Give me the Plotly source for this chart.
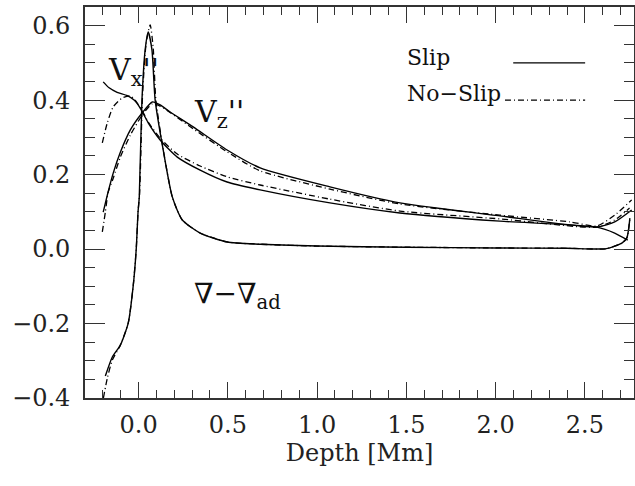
import plotly.graph_objects as go

# ---- data ----
grad_slip_x = [-0.186, -0.147, -0.102, -0.058, -0.030, -0.013, -0.003, 0.004, 0.019, 0.037, 0.054,
               0.075, 0.093, 0.138, 0.189, 0.245, 0.345, 0.496, 0.681, 1.0, 1.5, 2.0, 2.4, 2.62,
               2.707, 2.735, 2.752]
grad_slip_y = [-0.341, -0.290, -0.258, -0.199, -0.099, 0.0, 0.099, 0.140, 0.400, 0.535, 0.583,
               0.535, 0.400, 0.266, 0.140, 0.078, 0.043, 0.019, 0.013, 0.008, 0.005, 0.003, 0.002, 0.001,
               0.016, 0.030, 0.083]

grad_noslip_x = [-0.197, -0.175, -0.147, -0.102, -0.058, -0.030, -0.013, -0.003, 0.006, 0.022, 0.042,
                 0.065, 0.082, 0.097, 0.140, 0.190, 0.245, 0.345, 0.496, 0.681, 1.0, 1.5, 2.0, 2.4,
                 2.62, 2.707, 2.735, 2.752]
grad_noslip_y = [-0.400, -0.347, -0.298, -0.258, -0.199, -0.099, 0.0, 0.099, 0.150, 0.410, 0.550,
                 0.602, 0.540, 0.400, 0.262, 0.138, 0.078, 0.043, 0.019, 0.013, 0.008, 0.005, 0.003, 0.002,
                 0.001, 0.016, 0.030, 0.083]

vz_slip_x = [-0.198, -0.175, -0.142, -0.102, -0.046, 0.021, 0.077, 0.121, 0.177, 0.306, 0.496,
             0.681, 1.072, 1.464, 2.024, 2.567, 2.667, 2.762]
vz_slip_y = [0.099, 0.145, 0.204, 0.260, 0.320, 0.366, 0.395, 0.387, 0.368, 0.328, 0.266,
             0.218, 0.167, 0.124, 0.089, 0.059, 0.073, 0.105]

vz_noslip_x = [-0.203, -0.186, -0.170, -0.142, -0.102, -0.046, 0.021, 0.077, 0.121, 0.306, 0.496,
               0.681, 1.072, 1.464, 2.024, 2.415, 2.567, 2.667, 2.762]
vz_noslip_y = [0.046, 0.099, 0.153, 0.190, 0.247, 0.306, 0.360, 0.390, 0.384, 0.323, 0.261,
               0.210, 0.161, 0.121, 0.091, 0.073, 0.062, 0.091, 0.132]

vx_slip_x = [-0.198, -0.165, -0.120, -0.063, -0.025, 0.010, 0.054, 0.121, 0.217, 0.345, 0.496, 0.681,
             1.072, 1.464, 2.024, 2.567, 2.667, 2.740]
vx_slip_y = [0.449, 0.433, 0.421, 0.412, 0.400, 0.378, 0.339, 0.293, 0.247, 0.212, 0.180, 0.159,
             0.124, 0.097, 0.075, 0.059, 0.043, 0.024]

vx_noslip_x = [-0.203, -0.175, -0.142, -0.091, -0.046, -0.019, 0.021, 0.054, 0.121, 0.217, 0.345,
               0.496, 0.681, 1.072, 1.464, 2.024, 2.567, 2.667, 2.750]
vx_noslip_y = [0.285, 0.339, 0.382, 0.406, 0.411, 0.400, 0.371, 0.341, 0.298, 0.255, 0.223,
               0.194, 0.172, 0.134, 0.102, 0.081, 0.059, 0.078, 0.110]

x_tick_vals = [0.0, 0.5, 1.0, 1.5, 2.0, 2.5]
x_tick_text = ["0.0", "0.5", "1.0", "1.5", "2.0", "2.5"]
y_tick_vals = [-0.4, -0.2, 0.0, 0.2, 0.4, 0.6]
y_tick_text = ["\u22120.4", "\u22120.2", "0.0", "0.2", "0.4", "0.6"]

FONT = "DejaVu Serif"
INK = "#111111"
AX = "#333333"

solid = dict(color="black", width=1.4)
dashdot = dict(color="black", width=1.3, dash="6px,3px,1px,3px")

fig = go.Figure()
for xs, ys, ln in [
    (grad_slip_x, grad_slip_y, solid),
    (grad_noslip_x, grad_noslip_y, dashdot),
    (vz_slip_x, vz_slip_y, solid),
    (vz_noslip_x, vz_noslip_y, dashdot),
    (vx_slip_x, vx_slip_y, solid),
    (vx_noslip_x, vx_noslip_y, dashdot),
]:
    fig.add_trace(go.Scatter(x=xs, y=ys, mode="lines", line=dict(shape="spline", smoothing=0.6, **ln),
                             showlegend=False, hoverinfo="skip"))

# curve labels
fig.add_annotation(x=-0.18, y=0.476, xref="x", yref="y", text="V<sub>x</sub>''", showarrow=False,
                   xanchor="left", yanchor="middle", font=dict(family=FONT, size=30, color=INK))
fig.add_annotation(x=0.30, y=0.365, xref="x", yref="y", text="V<sub>z</sub>''", showarrow=False,
                   xanchor="left", yanchor="middle", font=dict(family=FONT, size=30, color=INK))
fig.add_annotation(x=0.30, y=-0.125, xref="x", yref="y", text="\u2207\u2212\u2207<sub>ad</sub>",
                   showarrow=False, xanchor="left", yanchor="middle",
                   font=dict(family=FONT, size=28, color=INK))

# legend drawn as text + sample lines
fig.add_annotation(x=0.583, y=0.872, xref="paper", yref="paper", text="Slip", showarrow=False,
                   xanchor="left", yanchor="middle", font=dict(family=FONT, size=22, color=INK))
fig.add_annotation(x=0.583, y=0.78, xref="paper", yref="paper", text="No\u2212Slip", showarrow=False,
                   xanchor="left", yanchor="middle", font=dict(family=FONT, size=22, color=INK))
fig.add_shape(type="line", xref="paper", yref="paper", x0=0.78, x1=0.911, y0=0.857, y1=0.857,
              line=dict(color="black", width=1.4))
fig.add_shape(type="line", xref="paper", yref="paper", x0=0.765, x1=0.911, y0=0.762, y1=0.762,
              line=dict(color="black", width=1.3, dash="6px,3px,1px,3px"))

axis_common = dict(showgrid=False, zeroline=False, showline=True, linecolor=AX, linewidth=1.6,
                   mirror="allticks", ticks="inside", tickcolor=AX, tickwidth=1.3,
                   tickfont=dict(family=FONT, size=24, color="#222222"))

fig.update_xaxes(range=[-0.3, 2.775], tickvals=x_tick_vals, ticktext=x_tick_text, ticklen=16,
                 minor=dict(dtick=0.1, tick0=0, ticklen=8, ticks="inside", tickcolor=AX, tickwidth=1.2),
                 title=dict(text="Depth [Mm]", font=dict(family=FONT, size=24, color="#222222"), standoff=4),
                 ticklabelstandoff=4, **axis_common)
fig.update_yaxes(range=[-0.4, 0.65], tickvals=y_tick_vals, ticktext=y_tick_text, ticklen=20,
                 minor=dict(dtick=0.05, tick0=0, ticklen=10, ticks="inside", tickcolor=AX, tickwidth=1.2),
                 ticklabelstandoff=8, **axis_common)

fig.update_layout(width=635, height=486, margin=dict(l=85, r=1, t=7, b=88, autoexpand=False),
                  plot_bgcolor="white", paper_bgcolor="white")

fig.write_html("out.html")
